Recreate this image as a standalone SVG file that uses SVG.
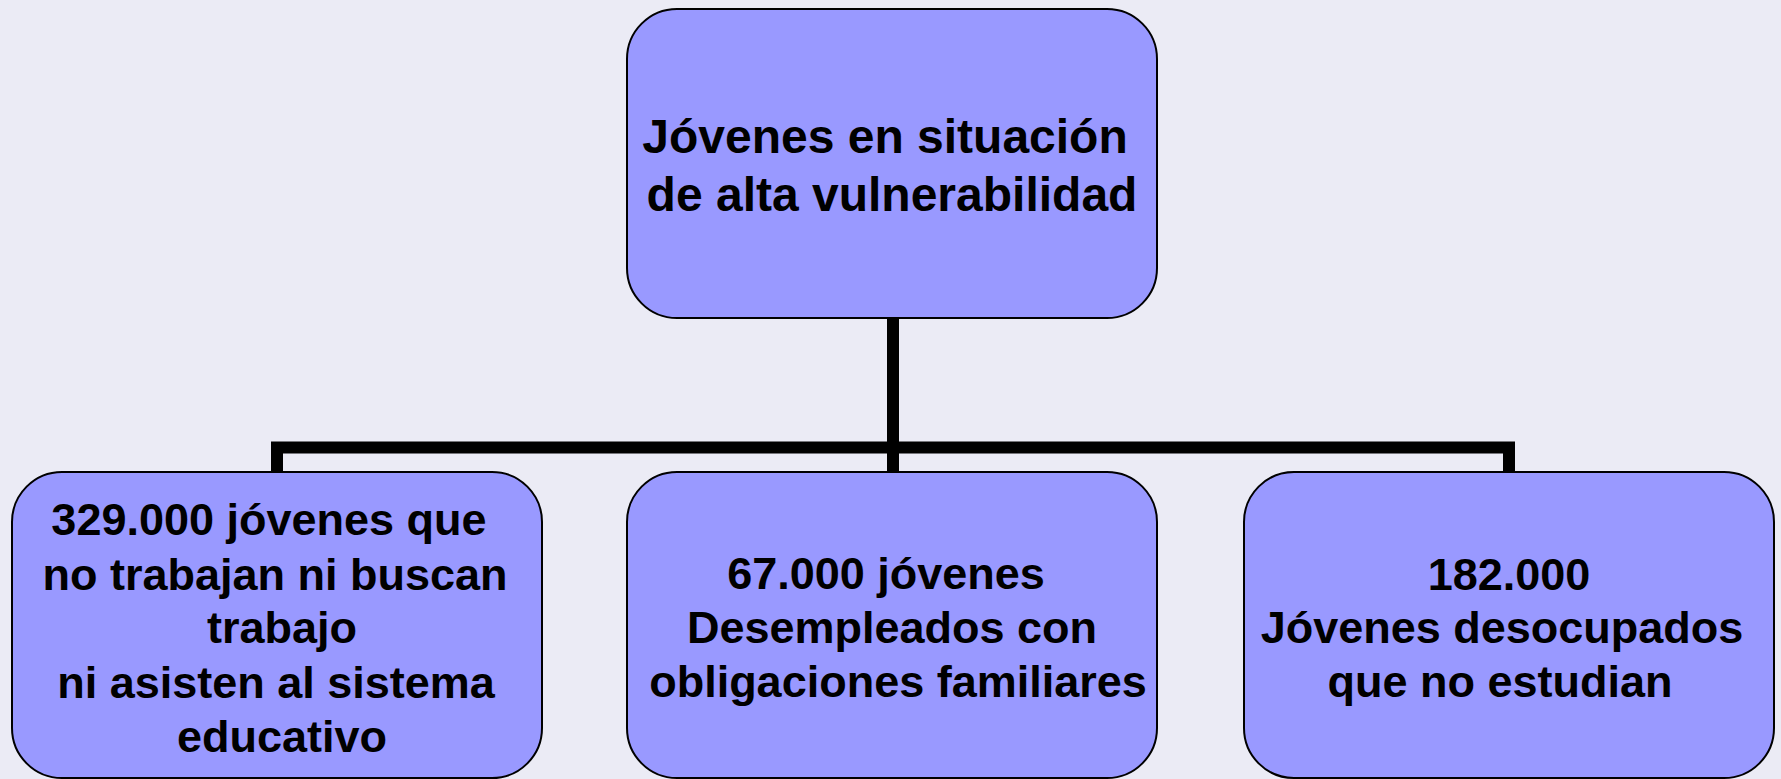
<svg xmlns="http://www.w3.org/2000/svg" width="1781" height="779" viewBox="0 0 1781 779">
<style>
.box{fill:#9999FF;stroke:#000;stroke-width:2}
.t{font-family:"Liberation Sans",Arial,sans-serif;font-weight:bold;font-size:45px;fill:#000;text-anchor:middle}
.big{font-size:48px}
.c{fill:none;stroke:#000;stroke-width:12;stroke-linejoin:miter;stroke-linecap:butt}
</style>
<rect width="1781" height="779" fill="#EBEBF5"/>
<g id="connectors">
<path class="c" d="M277,472 V447.5 H1509 V472"/>
<path class="c" d="M893,318 V472"/>
</g>
<g id="top">
<rect class="box" x="627" y="9" width="530" height="309" rx="50" ry="50"/>
<text class="t big"><tspan x="885" y="153">Jóvenes en situación</tspan><tspan x="892" y="211">de alta vulnerabilidad</tspan></text>
</g>
<g id="left">
<rect class="box" x="12" y="472" width="530" height="306" rx="50" ry="50"/>
<text class="t"><tspan x="269" y="535">329.000 jóvenes que</tspan><tspan x="275" y="590">no trabajan ni buscan</tspan><tspan x="282" y="643">trabajo</tspan><tspan x="276" y="698">ni asisten al sistema</tspan><tspan x="282" y="752">educativo</tspan></text>
</g>
<g id="middle">
<rect class="box" x="627" y="472" width="530" height="306" rx="50" ry="50"/>
<text class="t"><tspan x="886" y="589">67.000 jóvenes</tspan><tspan x="892" y="643">Desempleados con</tspan><tspan x="898" y="697">obligaciones familiares</tspan></text>
</g>
<g id="right">
<rect class="box" x="1244" y="472" width="530" height="306" rx="50" ry="50"/>
<text class="t"><tspan x="1509" y="590">182.000</tspan><tspan x="1502" y="643">Jóvenes desocupados</tspan><tspan x="1500" y="697">que no estudian</tspan></text>
</g>
</svg>
